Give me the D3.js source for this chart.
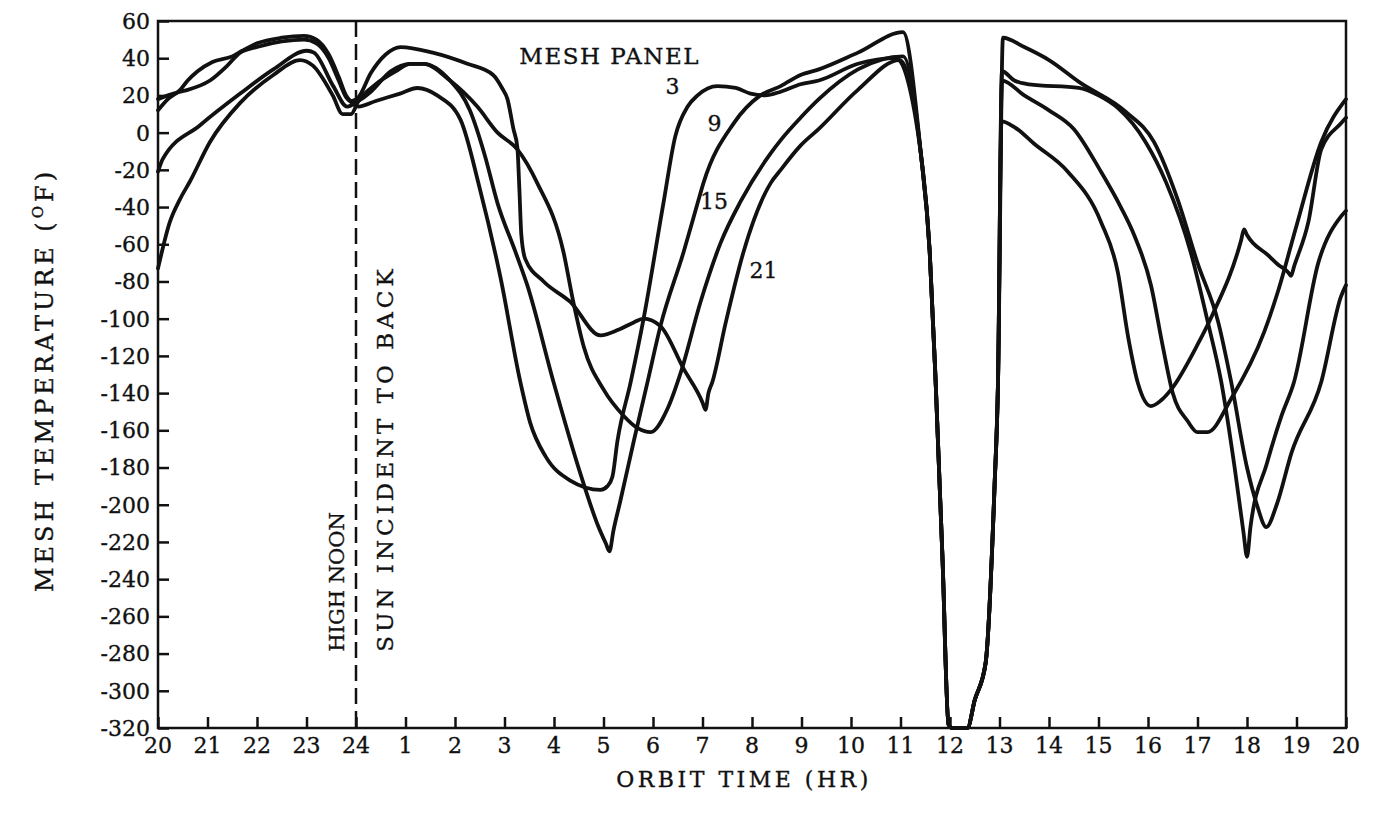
<!DOCTYPE html>
<html>
<head>
<meta charset="utf-8">
<script src="https://cdn.jsdelivr.net/npm/d3@7"></script>
<style>
  html, body { margin: 0; padding: 0; background: #fff; }
  svg { display: block; }
  text { font-family: "DejaVu Serif", "Liberation Serif", serif; fill: #111; stroke: #111; stroke-width: 0.35px; }
</style>
</head>
<body>
<svg id="chart" width="1378" height="820"></svg>
<script>
// Orbit time is measured in hours from the 20 hr mark (0..24 spans 20 hr -> 24 hr -> 20 hr).
const hourTicks = [0, 1, 2, 3, 4, 5, 6, 7, 8, 9, 10, 11, 12, 13, 14, 15, 16, 17, 18, 19, 20, 21, 22, 23, 24];
const hourLabels = ["20", "21", "22", "23", "24", "1", "2", "3", "4", "5", "6", "7", "8", "9", "10",
                    "11", "12", "13", "14", "15", "16", "17", "18", "19", "20"];
const tempTicks = [60, 40, 20, 0, -20, -40, -60, -80, -100, -120, -140, -160, -180, -200,
                   -220, -240, -260, -280, -300, -320];

// Mesh temperature (deg F) for each panel: [hours since 20 hr, temperature]
const panel3 = [
  [0, 18], [0.2, 20], [0.45, 22], [0.6, 23], [1.05, 28], [1.4, 36], [1.66, 43], [2.0, 46], [2.5, 49],
  [2.95, 50], [3.2, 48], [3.45, 40], [3.65, 28], [3.8, 19], [3.92, 16],
  [4.05, 14], [4.4, 17], [4.89, 21], [5.24, 24], [5.64, 20], [6.11, 7], [6.5, -30], [6.92, -78],
  [7.32, -134], [7.52, -156], [7.83, -174], [8.33, -187], [8.94, -192], [9.08, -190], [9.18, -185],
  [9.28, -166], [9.55, -134], [9.81, -100], [10.21, -38], [10.45, -2], [10.7, 14], [10.9, 20],
  [11.3, 25], [11.67, 24], [11.97, 21], [12.27, 20], [12.58, 22], [12.98, 26], [13.35, 28],
  [14.14, 37], [14.9, 40],
  [15.41, -11], [15.59, -64], [15.71, -134], [15.85, -230], [15.97, -318], [16.05, -320], [16.35, -320],
  [16.5, -305], [16.72, -285], [16.9, -190], [16.97, -134], [17.05, 28],
  [17.5, 20], [18.0, 12], [18.5, 2], [19.05, -21], [19.45, -40], [19.72, -55], [20.06, -82], [20.3, -115],
  [20.5, -140], [20.8, -155], [21.0, -161], [21.2, -161], [21.68, -143], [22.35, -107], [22.63, -85],
  [23.0, -50], [23.5, -5], [24, 18]
];
const panel9 = [
  [0, -73], [0.24, -48], [0.44, -36], [0.65, -26], [1.05, -5], [1.66, 16], [2.33, 31], [2.87, 39],
  [3.13, 36], [3.53, 20], [3.73, 10], [3.9, 10],
  [4.05, 17], [4.4, 26], [4.8, 33], [5.1, 37], [5.36, 37], [5.9, 28], [6.3, 12], [6.6, -12], [6.86, -38],
  [7.22, -64], [7.46, -82], [7.99, -134], [8.53, -183], [8.9, -212], [9.05, -221], [9.12, -225],
  [9.2, -214], [9.34, -198], [9.61, -166], [9.89, -134], [10.15, -104], [10.62, -64], [10.9, -38],
  [11.02, -27], [11.63, 5], [12.17, 20], [12.58, 25], [12.98, 31], [13.35, 34], [14.14, 43], [15.05, 54],
  [15.41, -11], [15.59, -64], [15.71, -134], [15.85, -230], [15.97, -318], [16.05, -320], [16.35, -320],
  [16.5, -305], [16.72, -285], [16.9, -190], [16.97, -134], [17.07, 51],
  [17.5, 46], [18.0, 39], [18.62, 27], [19.56, 11], [20.12, -5], [20.6, -36], [21.0, -70], [21.42, -102],
  [21.68, -134], [22.0, -180], [22.2, -200], [22.39, -212], [22.6, -200], [22.9, -172], [23.5, -134],
  [23.9, -88], [24, -82]
];
const panel15 = [
  [0, -21], [0.1, -14], [0.85, 4], [1.66, 21], [2.33, 34], [3.01, 44], [3.15, 43], [3.54, 25], [3.82, 14],
  [4.05, 17], [4.3, 22], [4.7, 33], [5.1, 37], [5.36, 37], [5.9, 28], [6.45, 14], [6.86, 0], [7.26, -9],
  [7.66, -27], [8.19, -64], [8.39, -91], [8.6, -115], [9.0, -138], [9.4, -152], [9.7, -159], [9.95, -161],
  [10.3, -148], [10.56, -129], [10.96, -91], [11.37, -59], [11.77, -37], [12.38, -11], [12.58, -4],
  [12.98, 8], [13.35, 18], [14.14, 34], [15.05, 41],
  [15.41, -11], [15.59, -64], [15.71, -134], [15.85, -230], [15.97, -318], [16.05, -320], [16.35, -320],
  [16.5, -305], [16.72, -285], [16.9, -190], [16.97, -134], [17.05, 33],
  [17.3, 28], [17.6, 26], [18.6, 24], [19.0, 20], [19.4, 13], [19.95, -5], [20.37, -27], [20.87, -65],
  [21.21, -102], [21.48, -134], [21.75, -180], [21.93, -215], [22.0, -228], [22.07, -212], [22.4, -178],
  [22.7, -152], [22.95, -134], [23.44, -70], [23.9, -45], [24, -42]
];
const panel21 = [
  [0, 12], [0.2, 18], [0.45, 23], [0.6, 28], [0.8, 33], [1.1, 38], [1.5, 41], [1.7, 44], [2.0, 48],
  [2.5, 51], [2.95, 52], [3.2, 50], [3.45, 42], [3.65, 30], [3.8, 20], [3.92, 17],
  [4.05, 19], [4.3, 32], [4.6, 42], [4.9, 46], [5.55, 43], [6.25, 37], [6.77, 31], [6.95, 24], [7.06, 18],
  [7.18, 2], [7.26, -8], [7.3, -30], [7.34, -55], [7.42, -68], [7.79, -80], [8.33, -91], [8.94, -109],
  [9.3, -106], [9.61, -102], [9.81, -100], [10.15, -104], [10.62, -127], [11.0, -145], [11.06, -149],
  [11.12, -140], [11.2, -134], [11.47, -102], [11.83, -64], [12.38, -27], [12.58, -20], [12.98, -7],
  [13.35, 2], [14.14, 23], [14.98, 39],
  [15.41, -11], [15.59, -64], [15.71, -134], [15.85, -230], [15.97, -318], [16.05, -320], [16.35, -320],
  [16.5, -305], [16.72, -285], [16.9, -190], [16.97, -134], [17.04, 6],
  [17.3, 3], [17.7, -6], [18.38, -21], [19.05, -48], [19.39, -75], [19.6, -110], [19.8, -135],
  [20.06, -147], [20.26, -144], [20.47, -138], [21.0, -114], [21.3, -98], [21.88, -58], [21.94, -52],
  [22.0, -55], [22.43, -66], [22.63, -71], [22.83, -75], [22.89, -77], [22.95, -72], [23.24, -48],
  [23.5, -9], [23.9, 5], [24, 8]
];

const panels = [
  { name: "3", values: panel3 },
  { name: "9", values: panel9 },
  { name: "15", values: panel15 },
  { name: "21", values: panel21 }
];

const svg = d3.select("#chart");
const plotLeft = 158, plotRight = 1346, plotTop = 21, plotBottom = 728;

const x = d3.scaleLinear().domain([0, 24]).range([plotLeft, plotRight]);
const y = d3.scaleLinear().domain([60, -320]).range([plotTop, plotBottom]);

// Plot frame
svg.append("rect")
  .attr("x", plotLeft).attr("y", plotTop)
  .attr("width", plotRight - plotLeft).attr("height", plotBottom - plotTop)
  .attr("fill", "none").attr("stroke", "#111").attr("stroke-width", 2.5);

// Left axis: ticks point into the plot
const yAxis = d3.axisRight(y).tickValues(tempTicks).tickSize(11).tickFormat("");
svg.append("g").attr("transform", `translate(${plotLeft},0)`).call(yAxis)
  .call(g => g.select(".domain").remove())
  .call(g => g.selectAll("line").attr("stroke", "#111").attr("stroke-width", 2.5));

svg.append("g").selectAll("text").data(tempTicks).join("text")
  .attr("x", plotLeft - 8).attr("y", d => y(d))
  .attr("dy", "0.36em")
  .attr("text-anchor", "end")
  .attr("font-size", 22)
  .text(d => d < 0 ? "-" + Math.abs(d) : String(d));

// Bottom axis: ticks point up into the plot
const xAxis = d3.axisTop(x).tickValues(hourTicks).tickSize(11).tickFormat("");
svg.append("g").attr("transform", `translate(0,${plotBottom})`).call(xAxis)
  .call(g => g.select(".domain").remove())
  .call(g => g.selectAll("line").attr("stroke", "#111").attr("stroke-width", 2.5));

svg.append("g").selectAll("text").data(hourTicks).join("text")
  .attr("x", d => x(d)).attr("y", plotBottom + 25)
  .attr("text-anchor", "middle")
  .attr("font-size", 22)
  .text((d, i) => hourLabels[i]);

// Axis titles
svg.append("text")
  .attr("x", x(12) - 8).attr("y", 787)
  .attr("text-anchor", "middle").attr("font-size", 22)
  .attr("letter-spacing", 3.5)
  .text("ORBIT TIME (HR)");

const yTitle = svg.append("text")
  .attr("transform", `translate(53,${380}) rotate(-90)`)
  .attr("text-anchor", "middle").attr("font-size", 24)
  .attr("letter-spacing", 4);
yTitle.append("tspan").text("MESH TEMPERATURE (");
yTitle.append("tspan").attr("font-size", 15).attr("dy", -10).text("O");
yTitle.append("tspan").attr("dy", 10).text("F)");

// High-noon marker
svg.append("line")
  .attr("x1", x(4)).attr("x2", x(4))
  .attr("y1", plotTop).attr("y2", plotBottom)
  .attr("stroke", "#111").attr("stroke-width", 2.5)
  .attr("stroke-dasharray", "16 7");

svg.append("text")
  .attr("transform", `translate(${x(4) - 12},${y(-279)}) rotate(-90)`)
  .attr("font-size", 21)
  .text("HIGH NOON");
svg.append("text")
  .attr("transform", `translate(${x(4) + 37},${y(-279)}) rotate(-90)`)
  .attr("font-size", 23)
  .attr("letter-spacing", 4)
  .text("SUN INCIDENT TO BACK");

// Temperature curves
const line = d3.line()
  .x(d => x(d[0]))
  .y(d => y(d[1]))
  .curve(d3.curveMonotoneX);

svg.append("g").selectAll("path").data(panels).join("path")
  .attr("d", d => line(d.values))
  .attr("fill", "none")
  .attr("stroke", "#111")
  .attr("stroke-width", 3.8)
  .attr("stroke-linejoin", "round")
  .attr("stroke-linecap", "round");

// Panel labels
svg.append("text").attr("x", x(7.3)).attr("y", y(37)).attr("font-size", 23)
  .attr("letter-spacing", 1.5).text("MESH PANEL");
const panelLabels = [
  { text: "3", t: 10.25, v: 25 },
  { text: "9", t: 11.1, v: 5 },
  { text: "15", t: 10.95, v: -37 },
  { text: "21", t: 11.95, v: -74 }
];
svg.append("g").selectAll("text").data(panelLabels).join("text")
  .attr("x", d => x(d.t)).attr("y", d => y(d.v)).attr("dy", "0.36em")
  .attr("font-size", 22)
  .text(d => d.text);
</script>
</body>
</html>
